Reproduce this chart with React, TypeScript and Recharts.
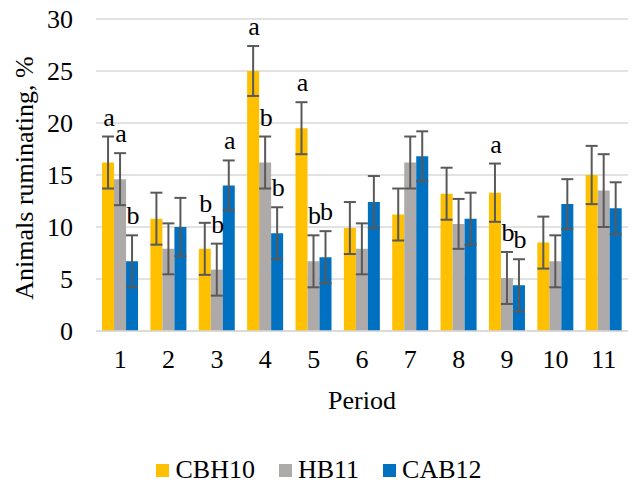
import React from 'react';
import { BarChart, Bar, XAxis, YAxis, CartesianGrid, ErrorBar, LabelList, Legend, Label } from 'recharts';

const periods = ['1', '2', '3', '4', '5', '6', '7', '8', '9', '10', '11'];
const cbh10 = [16.2, 10.8, 7.9, 25.0, 19.5, 9.9, 11.2, 13.2, 13.3, 8.5, 15.0];
const hb11 = [14.6, 7.9, 5.9, 16.2, 6.7, 7.9, 16.2, 10.3, 5.1, 6.7, 13.5];
const cab12 = [6.7, 10.0, 14.0, 9.4, 7.1, 12.4, 16.8, 10.8, 4.4, 12.2, 11.8];
const cbh10Err = [2.5, 2.5, 2.5, 2.4, 2.5, 2.5, 2.5, 2.5, 2.8, 2.5, 2.8];
const hb11Err = [2.5, 2.45, 2.5, 2.5, 2.5, 2.45, 2.5, 2.4, 2.5, 2.5, 3.5];
const cab12Err = [2.5, 2.8, 2.4, 2.5, 2.5, 2.5, 2.4, 2.5, 2.5, 2.4, 2.5];
const cbh10Sig = ['a', '', 'b', 'a', 'a', '', '', '', 'a', '', ''];
const hb11Sig = ['a', '', 'b', 'b', 'b', '', '', '', 'b', '', ''];
const cab12Sig = ['b', '', 'a', 'b', 'b', '', '', '', 'b', '', ''];
const yTicks = [0, 5, 10, 15, 20, 25, 30];

const series = [
  { key: 'CBH10', color: '#FFC000', values: cbh10, err: cbh10Err, sig: cbh10Sig },
  { key: 'HB11', color: '#AEAAAA', values: hb11, err: hb11Err, sig: hb11Sig },
  { key: 'CAB12', color: '#0070C0', values: cab12, err: cab12Err, sig: cab12Sig },
];

const data = periods.map((p, i) => {
  const row: any = { period: p };
  series.forEach((s) => {
    row[s.key] = s.values[i];
    row[s.key + 'Err'] = s.err[i];
    row[s.key + 'Sig'] = s.sig[i];
  });
  return row;
});

const FONT = 'Liberation Serif';

const makeSigLabel = (errs: number[], vals: number[]) => (props: any) => {
  const { x, y, width, height, value, index } = props;
  if (!value) return null;
  const pxPerUnit = height / vals[index];
  const errTop = y - errs[index] * pxPerUnit;
  return (
    <text x={x + width / 2 + 1} y={errTop - 11} textAnchor="middle" style={{ fontFamily: FONT }} fontSize={26} fill="#000">
      {value}
    </text>
  );
};

const LegendContent = () => (
  <div style={{ display: 'flex', justifyContent: 'center', alignItems: 'center', height: 36, fontFamily: FONT, fontSize: 26, color: '#000' }}>
    {series.map((s, i) => (
      <div key={s.key} style={{ display: 'flex', alignItems: 'center', marginLeft: i === 0 ? 0 : 24 }}>
        <div style={{ width: 13, height: 13, background: s.color, marginRight: 6 }} />
        <span style={{ lineHeight: 'normal' }}>{s.key}</span>
      </div>
    ))}
  </div>
);

export default function App() {
  return (
    <div style={{ position: 'absolute', left: 0, top: 0, width: 638, height: 490, background: '#fff' }}>
      <BarChart
        width={638}
        height={490}
        data={data}
        margin={{ top: 19, right: 10, left: 0, bottom: 33 }}
        barCategoryGap="12.5%"
        barGap={0}
      >
        <CartesianGrid vertical={false} stroke="#D9D9D9" strokeWidth={1.5} />
        <XAxis
          dataKey="period"
          height={90}
          axisLine={{ stroke: '#D9D9D9', strokeWidth: 1.5 }}
          tickLine={false}
          tickSize={0}
          tickMargin={19}
          interval={0}
          tick={{ fontFamily: FONT, fontSize: 26, fill: '#000' }}
        >
          <Label
            content={(props: any) => {
              const vb = props.viewBox;
              return (
                <text x={vb.x + vb.width / 2} y={vb.y + 78} textAnchor="middle" style={{ fontFamily: FONT }} fontSize={26} fill="#000">
                  Period
                </text>
              );
            }}
          />
        </XAxis>
        <YAxis
          domain={[0, 30]}
          ticks={yTicks}
          interval={0}
          width={96}
          axisLine={false}
          tickLine={false}
          tickSize={0}
          tickMargin={23}
          tick={{ fontFamily: FONT, fontSize: 26, fill: '#000' }}
        >
          <Label
            content={(props: any) => {
              const vb = props.viewBox;
              const cy = vb.y + vb.height / 2 + 3;
              return (
                <text x={0} y={0} transform={`translate(33, ${cy}) rotate(-90)`} textAnchor="middle" style={{ fontFamily: FONT }} fontSize={26} fill="#000">
                  Animals ruminating, %
                </text>
              );
            }}
          />
        </YAxis>
        <Legend
          verticalAlign="bottom"
          content={<LegendContent />}
          wrapperStyle={{ position: 'absolute', top: 452, left: 0, width: 638, bottom: 'auto' }}
        />
        {series.map((s) => (
          <Bar key={s.key} dataKey={s.key} fill={s.color} isAnimationActive={false}>
            <ErrorBar dataKey={s.key + 'Err'} width={6} stroke="#595959" strokeWidth={2} direction="y" />
            <LabelList dataKey={s.key + 'Sig'} content={makeSigLabel(s.err, s.values)} />
          </Bar>
        ))}
      </BarChart>
    </div>
  );
}
